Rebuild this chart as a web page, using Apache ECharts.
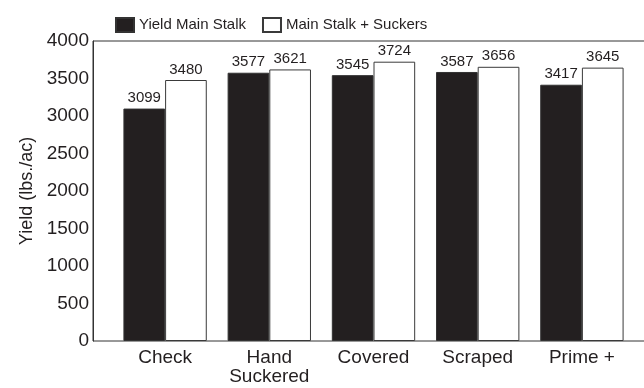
<!DOCTYPE html>
<html>
<head>
<meta charset="utf-8">
<script src="https://cdn.jsdelivr.net/npm/echarts@6/dist/echarts.min.js"></script>
<style>
  html, body { margin: 0; padding: 0; background: #fff; }
  #chart { width: 644px; height: 388px; }
</style>
</head>
<body>
<div id="chart"></div>
<script>
// 数据
const categories = ['Check', 'Hand\nSuckered', 'Covered', 'Scraped', 'Prime +']
const mainStalk = [3099, 3577, 3545, 3587, 3417]
const withSuckers = [3480, 3621, 3724, 3656, 3645]
const yTicks = { min: 0, max: 4000, interval: 500 }

const ink = '#231f20'
const font = 'Liberation Sans, Arial, sans-serif'

const myChart = echarts.init(document.getElementById('chart'))
const option = {
  animation: false,
  textStyle: { fontFamily: font, color: ink },
  legend: {
    left: 110,
    top: 12,
    itemWidth: 18,
    itemHeight: 14,
    itemGap: 16,
    icon: 'rect',
    textStyle: { fontSize: 15, color: ink, fontFamily: font },
    data: ['Yield Main Stalk', 'Main Stalk + Suckers']
  },
  grid: [
    // 外框 + 纵轴（右边框放到画布外）
    { left: 93, width: 620, top: 41, bottom: 47, show: true, borderColor: '#333', borderWidth: 1, outerBoundsMode: 'none' },
    // 柱子
    { left: 113, right: 10, top: 41, bottom: 47, outerBoundsMode: 'none' }
  ],
  xAxis: [
    { gridIndex: 0, type: 'category', data: categories, show: false },
    {
      gridIndex: 1,
      type: 'category',
      data: categories,
      axisLine: { show: false },
      axisTick: { show: false },
      axisLabel: { fontSize: 19, color: ink, fontFamily: font, margin: 7, lineHeight: 19, interval: 0 }
    }
  ],
  yAxis: [
    {
      gridIndex: 0,
      type: 'value',
      min: yTicks.min,
      max: yTicks.max,
      interval: yTicks.interval,
      name: 'Yield (lbs./ac)',
      nameLocation: 'middle',
      nameGap: 57,
      nameTextStyle: { fontSize: 18, color: ink, fontFamily: font },
      axisLine: { show: true, lineStyle: { color: '#333' } },
      axisTick: { show: false },
      splitLine: { show: false },
      axisLabel: { fontSize: 19, color: ink, fontFamily: font, margin: 4, formatter: v => String(v) }
    },
    { gridIndex: 1, type: 'value', min: yTicks.min, max: yTicks.max, show: false }
  ],
  series: [
    {
      name: 'Yield Main Stalk',
      type: 'bar',
      xAxisIndex: 1,
      yAxisIndex: 1,
      data: mainStalk,
      barGap: 0,
      barCategoryGap: '20%',
      itemStyle: { color: ink, borderColor: '#333', borderWidth: 1 },
      label: { show: true, position: 'top', distance: 3, fontSize: 15, color: ink, fontFamily: font }
    },
    {
      name: 'Main Stalk + Suckers',
      type: 'bar',
      xAxisIndex: 1,
      yAxisIndex: 1,
      data: withSuckers,
      barGap: 0,
      barCategoryGap: '20%',
      itemStyle: { color: '#fff', borderColor: '#3a3a3a', borderWidth: 1 },
      label: { show: true, position: 'top', distance: 3, fontSize: 15, color: ink, fontFamily: font }
    }
  ]
}
myChart.setOption(option)
</script>
</body>
</html>
